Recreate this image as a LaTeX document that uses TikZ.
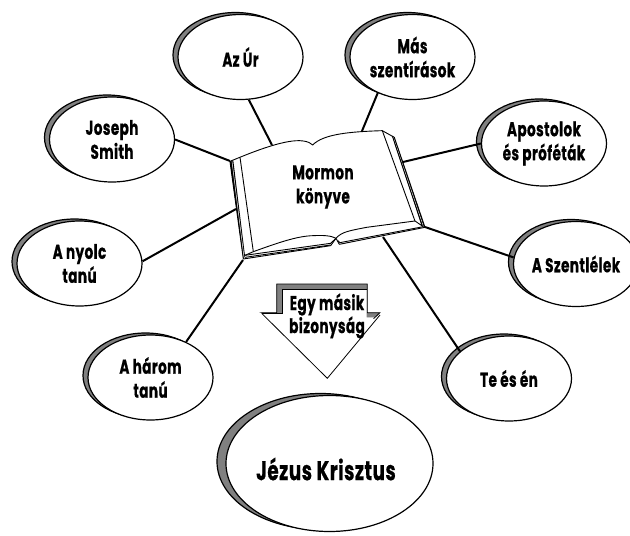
\documentclass[tikz,border=0pt]{standalone}
\usepackage{fontspec}
\usetikzlibrary{shapes.geometric}
\newfontfamily\labfont[FakeStretch=0.68,LetterSpace=2,BoldFont={Poppins Bold},BoldFeatures={FakeBold=0.6}]{Poppins}
\definecolor{shade}{gray}{0.5}
\tikzset{
  bub/.style={ellipse,draw=black,fill=white,line width=1.2pt,inner sep=0pt},
  shad/.style={ellipse,draw=black,fill=shade,line width=1.2pt,inner sep=0pt},
  lab/.style={align=center,inner sep=0pt,font=\labfont\bfseries\fontsize{20}{24}\selectfont},
  conn/.style={line width=2pt,line cap=butt},
  bk/.style={line width=0.9pt,line join=round}
}
\newcommand{\bubble}[4]{% name, x, y, text
  \node[shad,minimum width=125pt,minimum height=85pt] (#1s) at (#2-5,#3-2) {};
  \node[bub,minimum width=125pt,minimum height=85pt] (#1) at (#2,#3) {};
  \node[lab] (#1t) at (#2,#3) {#4};
}
\begin{document}
\begin{tikzpicture}[x=1pt,y=-1pt]
\useasboundingbox (0,0) rectangle (630,536);
\fill[white] (0,0) rectangle (630,536);
% connector ends on the book
\coordinate (baz) at (272,145);
\coordinate (bmas) at (362,131);
\coordinate (bapo) at (403,162);
\coordinate (bszl) at (425,227);
\coordinate (bte) at (383,237);
\coordinate (bhar) at (243,260);
\coordinate (bnyo) at (236,209);
\coordinate (bjos) at (230,161);
\bubble{az}{240.5}{57}{Az Úr}
\bubble{mas}{412.5}{57}{Más\\szentírások}
\bubble{apo}{544}{143.5}{Apostolok\\és próféták}
\bubble{szl}{576}{264}{A Szentlélek}
\bubble{te}{509}{378.5}{Te és én}
\bubble{har}{150.5}{377.5}{A három\\tanú}
\bubble{nyo}{79.5}{263.5}{A nyolc\\tanú}
\bubble{jos}{112}{139.5}{Joseph\\Smith}
\node[shad,minimum width=207pt,minimum height=136pt] (jezs) at (320.5,461.5) {};
\node[bub,minimum width=207pt,minimum height=136pt] (jez) at (329.5,463.5) {};
\node[lab,font=\labfont\bfseries\fontsize{27}{32}\selectfont] (jezt) at (326,469) {Jézus Krisztus};
\draw[conn] (az.-79) -- (baz);
\draw[conn] (mas.-134) -- (bmas);
\draw[conn] (apo.180) -- (bapo);
\draw[conn] (szl.174) -- (bszl);
\draw[conn] (te.151) -- (bte);
\draw[conn] (har.45) -- (bhar);
\draw[conn] (nyo.2) -- (bnyo);
\draw[conn] (jos.0) -- (bjos);
% book
\begin{scope}[shift={(210,110)},x=0.3333pt,y=-0.3333pt]
  \filldraw[bk,fill=white] (60,155) -- (65,152)
    .. controls (130,125) and (230,85) .. (280,93)
    .. controls (295,95) and (303,100) .. (308,105)
    .. controls (340,72) and (420,65) .. (517,62)
    -- (553,82) -- (645,352) -- (388,403)
    -- (378,385) -- (362,407) -- (100,447) -- cycle;
  \fill[black] (60,155) -- (70,152) -- (105,438) -- (100,447) -- cycle;
  \draw[white,line width=0.5pt] (66,154) -- (102,442);
  \fill[black] (547,78) -- (553,82) -- (645,352) -- (635,345) -- cycle;
  \draw[white,line width=0.5pt] (550,82) -- (640,349);
  \draw[bk] (90,142) -- (130,425);
  \draw[bk] (517,62) -- (615,333) -- (640,350);
  \draw[bk] (547,78) -- (636,346);
  \draw[bk] (130,425) .. controls (200,400) and (260,378) .. (310,377)
     .. controls (345,375) and (365,378) .. (378,385)
     .. controls (395,365) and (420,362) .. (470,352) -- (615,333);
  \draw[bk] (105,436) -- (130,425);
  \draw[bk] (105,436) -- (362,400) -- (378,385);
  \draw[bk] (105,442) -- (362,405);
  \draw[bk] (384,392) -- (390,398) -- (640,350);
\end{scope}
\node[lab] (title) at (323,187) {Mormon\\könyve};
% arrow
\begin{scope}[shift={(250,270)},x=0.3333pt,y=-0.3333pt]
  \filldraw[draw=black,fill=shade,line width=0.8pt] (35,128) -- (80,128) -- (80,42) -- (352,42) -- (352,128) -- (390,128) -- (372,145) -- (90,145) -- cycle;
  \fill[white] (97,57) -- (350,57) -- (350,142) -- (372,142) -- (232,325) -- (35,130) -- (97,130) -- cycle;
  \draw[line width=0.8pt] (35,130) -- (97,130) -- (97,57) -- (350,57);
  \draw[line width=0.8pt] (35,130) -- (232,325) -- (390,135);
\end{scope}
\node[lab,font=\labfont\bfseries\fontsize{20}{23}\selectfont] (arr) at (327,316) {Egy másik\\bizonyság};
\end{tikzpicture}
\end{document}
